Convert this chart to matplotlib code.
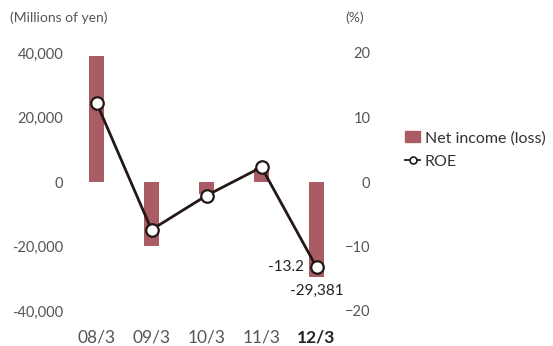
import matplotlib
matplotlib.use("Agg")
import matplotlib.pyplot as plt
from matplotlib.patches import Patch
from matplotlib.lines import Line2D

plt.rcParams["font.family"] = ["Lato", "DejaVu Sans"]

# data
years = ["08/3", "09/3", "10/3", "11/3", "12/3"]
net_income = [39000, -19800, -3800, 4300, -29381]
roe = [12.3, -7.4, -2.1, 2.3, -13.2]

BAR = "#a95c64"
LINE = "#231815"
GREY = "#555555"

fig = plt.figure(figsize=(5.53, 3.46), dpi=100)
ax = fig.add_axes([69 / 553, 35 / 346, 275 / 553, 258 / 346])
ax2 = ax.twinx()

x = list(range(len(years)))
ax.bar(x, net_income, width=0.27, color=BAR, zorder=2)
ax2.plot(x, roe, color=LINE, lw=2, marker="o", ms=9, mfc="white",
         mec=LINE, mew=1.6, zorder=3)

ax.set_xlim(-0.5, 4.5)
ax.set_ylim(-40000, 40000)
ax2.set_ylim(-20, 20)
ax.set_yticks([-40000, -20000, 0, 20000, 40000])
ax.set_yticklabels([f"{v:,}" for v in ax.get_yticks().astype(int)])
ax2.set_yticks([-20, -10, 0, 10, 20])
ax.set_xticks(x)
ax.set_xticklabels(years)

for a in (ax, ax2):
    for s in a.spines.values():
        s.set_visible(False)
    a.tick_params(length=0, colors=GREY, labelsize=10.5)
ax.tick_params(axis="y", pad=4)
ax.tick_params(axis="x", pad=13, labelsize=12.5)
ax2.tick_params(axis="y", pad=19)
for t in ax2.get_yticklabels():
    t.set_horizontalalignment("right")

# last year's label is bold and dark
last = ax.get_xticklabels()[-1]
last.set_fontweight("bold")
last.set_color("#222222")

# unit labels
fig.text(10 / 553, 1 - 18 / 346, "(Millions of yen)", color=GREY, fontsize=10,
         va="center", ha="left")
fig.text(355 / 553, 1 - 18 / 346, "(%)", color=GREY, fontsize=10,
         va="center", ha="center")

# value labels for the latest year
ax2.annotate(f"{roe[-1]}", (x[-1], roe[-1]), xytext=(-9, 0),
             textcoords="offset points", ha="right", va="center",
             fontsize=11, color="#222222")
ax.annotate(f"{net_income[-1]:,}", (x[-1], net_income[-1]), xytext=(0, -10.5),
            textcoords="offset points", ha="center", va="center",
            fontsize=11, color="#222222")

handles = [Patch(color=BAR, label="Net income (loss)"),
           Line2D([], [], color=LINE, lw=1.3, marker="o", ms=5, mfc="white",
                  mec=LINE, mew=1.2, label="ROE")]
fig.legend(handles=handles, loc="center left",
           bbox_to_anchor=(391 / 553, 1 - 150 / 346), frameon=False,
           fontsize=11.5, handlelength=0.9, handletextpad=0.3,
           labelspacing=0.6, labelcolor="#333333")

fig.savefig("out.png", dpi=100)
